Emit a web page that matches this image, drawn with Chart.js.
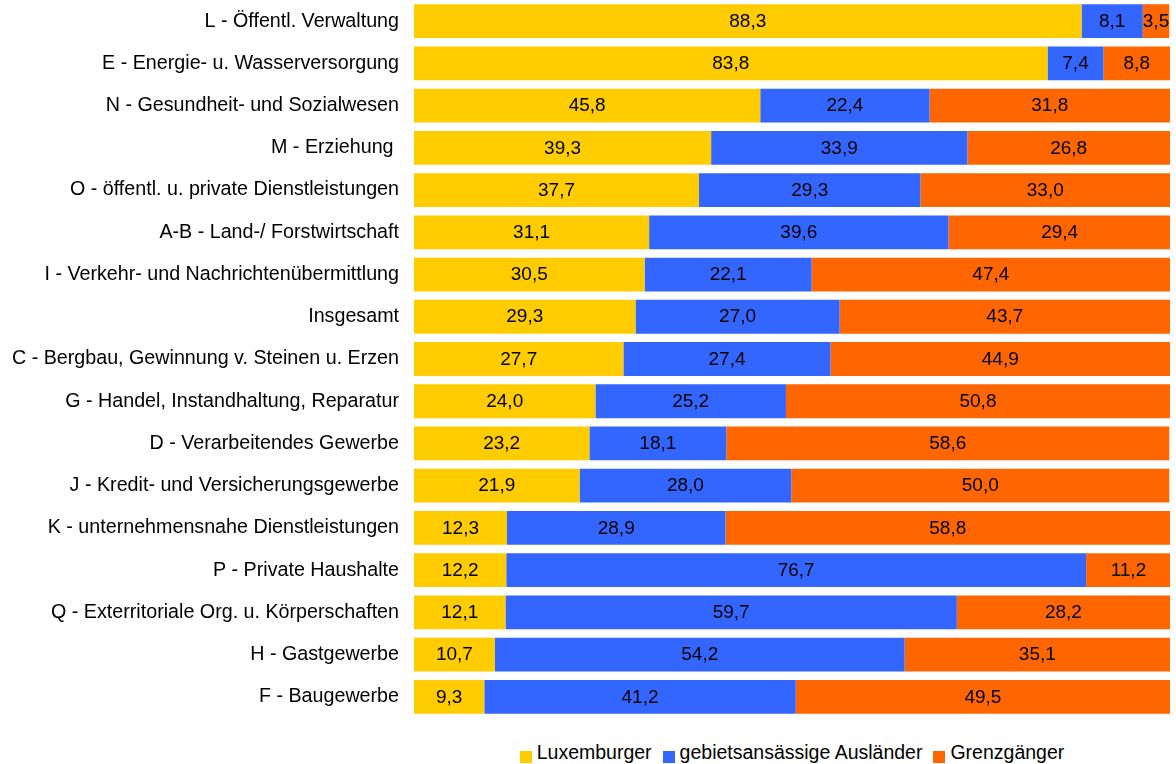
<!DOCTYPE html>
<html><head><meta charset="utf-8">
<script src="https://cdn.jsdelivr.net/npm/chart.js@4/dist/chart.umd.min.js"></script>
<style>
html,body{margin:0;padding:0;background:#fff;}
#wrap{position:relative;width:1176px;height:764px;overflow:hidden;}
#cw{position:absolute;left:0;top:0;width:1176px;height:722px;}
#legend{position:absolute;left:414px;top:741px;width:756px;line-height:22px;text-align:center;white-space:nowrap;font:19.5px "Liberation Sans",Arial,sans-serif;color:#000;}
#legend span.it{display:inline-block;margin:0 5.5px;}
#legend span.bx{display:inline-block;width:12px;height:12px;margin-right:5px;vertical-align:-4px;}
</style></head>
<body><div id="wrap"><div id="cw"><canvas id="c"></canvas></div><div id="legend"></div></div>
<script>
const categories = ["L - Öffentl. Verwaltung","E - Energie- u. Wasserversorgung","N - Gesundheit- und Sozialwesen","M - Erziehung ","O - öffentl. u. private Dienstleistungen","A-B - Land-/ Forstwirtschaft","I - Verkehr- und Nachrichtenübermittlung","Insgesamt","C - Bergbau, Gewinnung v. Steinen u. Erzen","G - Handel, Instandhaltung, Reparatur","D - Verarbeitendes Gewerbe","J - Kredit- und Versicherungsgewerbe","K - unternehmensnahe Dienstleistungen","P - Private Haushalte","Q - Exterritoriale Org. u. Körperschaften","H - Gastgewerbe","F - Baugewerbe"];
const seriesNames = ["Luxemburger","gebietsansässige Ausländer","Grenzgänger"];
const luxemburger = [88.3,83.8,45.8,39.3,37.7,31.1,30.5,29.3,27.7,24.0,23.2,21.9,12.3,12.2,12.1,10.7,9.3];
const auslaender = [8.1,7.4,22.4,33.9,29.3,39.6,22.1,27.0,27.4,25.2,18.1,28.0,28.9,76.7,59.7,54.2,41.2];
const grenzgaenger = [3.5,8.8,31.8,26.8,33.0,29.4,47.4,43.7,44.9,50.8,58.6,50.0,58.8,11.2,28.2,35.1,49.5];
const colors = ["#FFCC00","#3366FF","#FF6600"];
const FONT = '"Liberation Sans", Arial, sans-serif';

const valueLabels = {
  id:'valueLabels',
  afterDatasetsDraw(chart){
    const ctx = chart.ctx;
    ctx.save();
    ctx.font = '19px ' + FONT;
    ctx.fillStyle = '#000';
    ctx.textAlign = 'center';
    ctx.textBaseline = 'middle';
    chart.data.datasets.forEach((ds,di)=>{
      const meta = chart.getDatasetMeta(di);
      meta.data.forEach((bar,i)=>{
        const v = ds.data[i];
        const x = (bar.x + bar.base)/2;
        ctx.fillText(v.toFixed(1).replace('.',','), x, bar.y + 0.5);
      });
    });
    ctx.restore();
  }
};

const data = {
  labels: categories,
  datasets: [luxemburger,auslaender,grenzgaenger].map((d,i)=>({
    label: seriesNames[i], data: d, backgroundColor: colors[i], borderWidth:0,
    categoryPercentage:0.8, barPercentage:1.0
  }))
};

new Chart(document.getElementById('c'),{
  type:'bar',
  data,
  options:{
    indexAxis:'y',
    responsive:true, maintainAspectRatio:false, animation:false,
    layout:{padding:{top:0,right:6,bottom:4,left:0}},
    plugins:{legend:{display:false},tooltip:{enabled:false}},
    scales:{
      x:{stacked:true,min:0,max:100,display:false},
      y:{stacked:true,
         grid:{display:false,drawTicks:false},
         border:{display:false},
         ticks:{color:'#000',padding:15,autoSkip:false,font:{family:FONT,size:19.7}},
         afterFit(s){ s.width = 414; s.paddingTop = 0; s.paddingBottom = 0; }
      }
    }
  },
  plugins:[valueLabels]
});

const lg = document.getElementById('legend');
seriesNames.forEach((n,i)=>{
  const it = document.createElement('span'); it.className='it';
  const b = document.createElement('span'); b.className='bx'; b.style.background=colors[i];
  it.appendChild(b); it.appendChild(document.createTextNode(n));
  lg.appendChild(it);
});
</script></body></html>
